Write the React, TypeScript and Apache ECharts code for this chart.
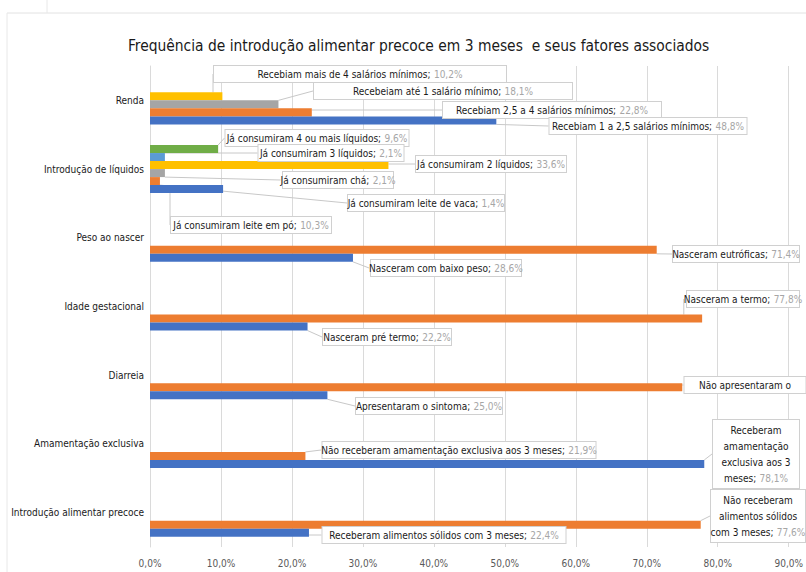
import React, { useEffect, useRef } from 'react';
import * as echarts from 'echarts';

// Categories, bottom to top
const categories = [
  'Introdução alimentar precoce',
  'Amamentação exclusiva',
  'Diarreia',
  'Idade gestacional',
  'Peso ao nascer',
  'Introdução de líquidos',
  'Renda',
];

const xTickMin = 0;
const xTickMax = 90;
const xTickStep = 10;

const blueValues = [22.4, 78.1, 25.0, 22.2, 28.6, 10.3, 48.8];
const blueNames = [
  'Receberam alimentos sólidos com 3 meses',
  'Receberam\namamentação\nexclusiva aos 3\nmeses',
  'Apresentaram o sintoma',
  'Nasceram pré termo',
  'Nasceram com baixo peso',
  'Já consumiram leite em pó',
  'Recebiam 1 a 2,5 salários mínimos',
];

const orangeValues = [77.6, 21.9, 75.0, 77.8, 71.4, 1.4, 22.8];
const orangeNames = [
  'Não receberam\nalimentos sólidos\ncom 3 meses',
  'Não receberam amamentação exclusiva aos 3 meses',
  'Não apresentaram o',
  'Nasceram a termo',
  'Nasceram eutróficas',
  'Já consumiram leite de vaca',
  'Recebiam 2,5 a 4 salários mínimos',
];
// labels whose text is cut in the original (value not visible)
const orangeTruncated = [false, false, true, false, false, false, false];

const grayValues = [null, null, null, null, null, 2.1, 18.1];
const grayNames = ['', '', '', '', '', 'Já consumiram chá', 'Recebeiam até 1 salário mínimo'];

const yellowValues = [null, null, null, null, null, 33.6, 10.2];
const yellowNames = ['', '', '', '', '', 'Já consumiram 2 líquidos', 'Recebiam mais de 4 salários mínimos'];

const lightBlueValues = [null, null, null, null, null, 2.1, null];
const lightBlueNames = ['', '', '', '', '', 'Já consumiram 3 líquidos', ''];

const greenValues = [null, null, null, null, null, 9.6, null];
const greenNames = ['', '', '', '', '', 'Já consumiram 4 ou mais líquidos', ''];

// ---- styling / layout (not data) ----
const FONT = '"Liberation Sans Narrow", "DejaVu Sans Condensed", "Arial Narrow", sans-serif';

// callout boxes: [centerX, centerY, boxWidth] per category index
type Box = [number, number, number] | null;
const blueBoxes: Box[] = [
  [444, 535, 245], [756, 454, 88], [429, 406, 148], [387, 337, 130], [446, 268, 152], [251, 225, 162], [648, 126, 199],
];
const orangeBoxes: Box[] = [
  [758, 516, 96], [459, 450, 275], [745, 385, 123], [743, 299, 114], [736, 254, 128], [426, 203, 158], [552, 110, 220],
];
const grayBoxes: Box[] = [null, null, null, null, null, [338, 180, 112], [443, 91, 260]];
const yellowBoxes: Box[] = [null, null, null, null, null, [491, 164, 152], [360, 74, 294]];
const lightBlueBoxes: Box[] = [null, null, null, null, null, [331, 153, 147], null];
const greenBoxes: Box[] = [null, null, null, null, null, [317, 138, 185], null];

const fmt = (v: number) => v.toFixed(1).replace('.', ',') + '%';

const seriesDefs = [
  { name: 'green', color: '#70AD47', values: greenValues, names: greenNames, boxes: greenBoxes, trunc: null as boolean[] | null },
  { name: 'lightBlue', color: '#5B9BD5', values: lightBlueValues, names: lightBlueNames, boxes: lightBlueBoxes, trunc: null },
  { name: 'yellow', color: '#FFC000', values: yellowValues, names: yellowNames, boxes: yellowBoxes, trunc: null },
  { name: 'gray', color: '#A5A5A5', values: grayValues, names: grayNames, boxes: grayBoxes, trunc: null },
  { name: 'orange', color: '#ED7D31', values: orangeValues, names: orangeNames, boxes: orangeBoxes, trunc: orangeTruncated },
  { name: 'blue', color: '#4472C4', values: blueValues, names: blueNames, boxes: blueBoxes, trunc: null },
];

function labelText(name: string, value: number, truncated: boolean) {
  const lines = name.split('\n');
  return lines
    .map((l, i) =>
      i === lines.length - 1 && !truncated ? `{n|${l};} {v|${fmt(value)}}` : `{n|${l}}`
    )
    .join('\n');
}

export default function App() {
  const ref = useRef<HTMLDivElement>(null);

  useEffect(() => {
    if (!ref.current) return;
    const chart = echarts.init(ref.current, undefined, { renderer: 'svg' });

    const series = seriesDefs.map((def) => ({
      type: 'bar' as const,
      name: def.name,
      barGap: '0%',
      barCategoryGap: '30%',
      itemStyle: { color: def.color },
      labelLine: { show: true, lineStyle: { color: '#c8c8c8', width: 1 } },
      data: def.values.map((v, i) => {
        if (v == null) return null;
        const box = def.boxes[i];
        const multi = def.names[i].includes('\n');
        const lh = multi ? 16 : 12;
        return {
          value: v,
          label: {
            show: true,
            position: 'right',
            formatter: labelText(def.names[i], v, def.trunc ? def.trunc[i] : false),
            backgroundColor: '#ffffff',
            borderColor: '#d0d0d0',
            borderWidth: 1,
            padding: [2, 4],
            width: box ? box[2] - 10 : undefined,
            align: 'center',
            lineHeight: lh,
            rich: {
              n: { color: '#1a1a1a', fontSize: 10, fontFamily: FONT, lineHeight: lh },
              v: { color: '#a6a6a6', fontSize: 10, fontFamily: FONT, lineHeight: lh },
            },
          },
        };
      }),
      labelLayout: (params: any) => {
        const box = def.boxes[params.dataIndex];
        if (!box) return {};
        return { x: box[0], y: box[1], align: 'center', verticalAlign: 'middle' };
      },
    }));

    chart.setOption({
      animation: false,
      backgroundColor: '#ffffff',
      title: {
        text: 'Frequência de introdução alimentar precoce em 3 meses  e seus fatores associados',
        left: 123,
        top: 33,
        textStyle: { fontFamily: FONT, fontSize: 15.4, fontWeight: 'normal', color: '#1a1a1a' },
      },
      graphic: [
        { type: 'line', shape: { x1: 7, y1: 13, x2: 806, y2: 13 }, style: { stroke: '#e2e2e2', lineWidth: 1 } },
        { type: 'line', shape: { x1: 7, y1: 13, x2: 7, y2: 572 }, style: { stroke: '#e8e8e8', lineWidth: 1 } },
        { type: 'line', shape: { x1: 47, y1: 0, x2: 47, y2: 13 }, style: { stroke: '#e8e8e8', lineWidth: 1 } },
      ],
      grid: { left: 150, right: 16, top: 66, bottom: 25, containLabel: false },
      xAxis: {
        type: 'value',
        min: xTickMin,
        max: xTickMax,
        interval: xTickStep,
        axisLine: { show: false },
        axisTick: { show: false },
        splitLine: { lineStyle: { color: '#dadada', width: 1 } },
        axisLabel: {
          formatter: (v: number) => fmt(v),
          color: '#595959',
          fontFamily: FONT,
          fontSize: 10,
          margin: 11,
        },
      },
      yAxis: {
        type: 'category',
        data: categories,
        axisLine: { show: true, lineStyle: { color: '#dadada' } },
        axisTick: { show: false },
        axisLabel: { color: '#1a1a1a', fontFamily: FONT, fontSize: 10, margin: 6 },
      },
      series,
    });

    return () => chart.dispose();
  }, []);

  return (
    <div
      ref={ref}
      style={{ position: 'fixed', left: 0, top: 0, width: 806, height: 572, background: '#fff' }}
    />
  );
}
